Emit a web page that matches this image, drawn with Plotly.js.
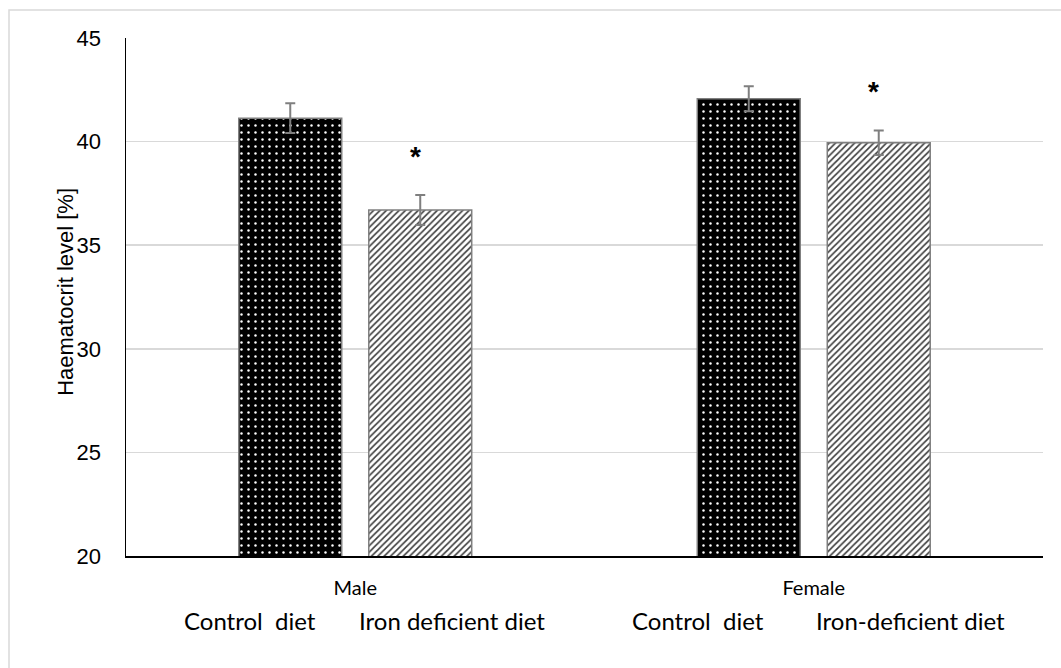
<!DOCTYPE html>
<html>
<head>
<meta charset="utf-8">
<script src="https://cdn.plot.ly/plotly-3.0.1.min.js"></script>
<style>
html,body{margin:0;padding:0;background:#fff;}
#chart{width:1061px;height:668px;}
</style>
</head>
<body>
<div id="chart"></div>
<script>
const groups = ["Male", "Female"];
const controlValues = [41.13, 42.07];
const controlErrors = [0.72, 0.6];
const ironValues = [36.70, 39.94];
const ironErrors = [0.72, 0.59];
const dietLabels = ["Control  diet", "Iron deficient diet", "Control  diet", "Iron-deficient diet"];
const significance = ["*", "*"];
const yTicks = [20, 25, 30, 35, 40, 45];
const yTitle = "Haematocrit level [%]";

const control = {
  type: "bar", name: "Control diet", x: groups, y: controlValues,
  marker: {
    color: "#000000",
    line: {color: "#7f7f7f", width: 1.5},
    pattern: {shape: ".", fgcolor: "#ffffff", bgcolor: "#000000", size: 7, solidity: 0.1}
  },
  error_y: {type: "data", array: controlErrors, visible: true, color: "#7f7f7f", thickness: 2, width: 5},
  hoverinfo: "skip"
};
const iron = {
  type: "bar", name: "Iron deficient diet", x: groups, y: ironValues,
  marker: {
    color: "#ffffff",
    line: {color: "#7f7f7f", width: 1.5},
    pattern: {shape: "/", fgcolor: "#3a3a3a", bgcolor: "#ffffff", size: 4.5, solidity: 0.35}
  },
  error_y: {type: "data", array: ironErrors, visible: true, color: "#7f7f7f", thickness: 2, width: 5},
  hoverinfo: "skip"
};

const annotations = [];
// diet labels under groups
const dietX = [250, 452, 698, 910];
dietLabels.forEach((t, i) => {
  annotations.push({
    text: t, xref: "paper", yref: "paper",
    x: (dietX[i] - 126) / 917, y: -0.1236, xanchor: "center", yanchor: "middle",
    showarrow: false, font: {family: "Lato, 'Open Sans', sans-serif", size: 24, color: "#000"}
  });
});
// significance stars above iron-deficient bars
groups.forEach((g, i) => {
  annotations.push({
    text: "<b>" + significance[i] + "</b>", x: g, y: ironValues[i] + ironErrors[i],
    xref: "x", yref: "y", xshift: 60, yshift: 39, yanchor: "middle", xanchor: "center",
    showarrow: false, font: {family: "Liberation Sans, Arial, sans-serif", size: 28, color: "#000"}
  });
});
// y-axis title
annotations.push({
  text: yTitle, xref: "paper", yref: "paper", x: (66 - 126) / 917, y: 0.51,
  xanchor: "center", yanchor: "middle", textangle: -90, showarrow: false,
  font: {family: "Liberation Sans, Arial, sans-serif", size: 22, color: "#000"}
});

const layout = {
  width: 1061, height: 668,
  margin: {l: 126, r: 18, t: 38, b: 112},
  paper_bgcolor: "#ffffff", plot_bgcolor: "#ffffff",
  showlegend: false,
  barmode: "group", bargap: 0.433, bargroupgap: 0.208,
  font: {family: "Liberation Sans, Arial, sans-serif", color: "#000"},
  xaxis: {
    type: "category", showgrid: false, zeroline: false,
    showline: true, linecolor: "#000000", linewidth: 2,
    ticks: "", ticklabelstandoff: 13,
    tickfont: {family: "Lato, 'Open Sans', sans-serif", size: 20, color: "#000"},
    fixedrange: true
  },
  yaxis: {
    range: [20, 45], tickvals: yTicks, ticktext: yTicks.map(String),
    showgrid: true, gridcolor: "#d9d9d9", gridwidth: 1.5,
    showline: true, linecolor: "#000000", linewidth: 1.5,
    zeroline: false, ticks: "", ticklabelstandoff: 19,
    tickfont: {family: "Liberation Sans, Arial, sans-serif", size: 22, color: "#000"},
    fixedrange: true
  },
  annotations: annotations,
  shapes: [{
    type: "rect", xref: "paper", yref: "paper",
    x0: (9 - 126) / 917, x1: 1.1, y0: -0.3, y1: (556 - 10) / 518,
    line: {color: "#d9d9d9", width: 1.5}, fillcolor: "rgba(0,0,0,0)", layer: "below"
  }]
};

Plotly.newPlot("chart", [control, iron], layout, {displayModeBar: false, staticPlot: true});
</script>
</body>
</html>
